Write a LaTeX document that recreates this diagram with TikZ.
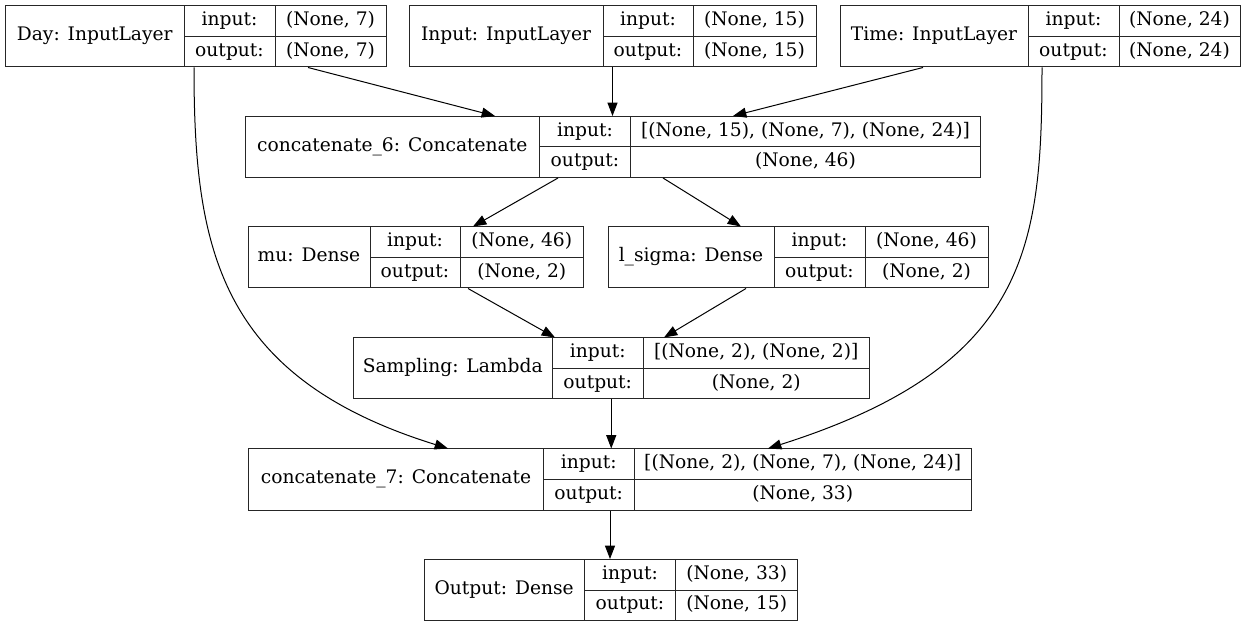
\documentclass[tikz,border=0pt]{standalone}
\usepackage{fontspec}
\setmainfont{DejaVu Serif}
\usetikzlibrary{arrows.meta,fit,calc}
\tikzset{
  boxst/.style={draw=black!85, line width=0.75pt, inner sep=0pt},
  divst/.style={draw=black!85, line width=0.75pt},
  txt/.style={inner sep=0pt, text height=0.8em, text depth=0.15em, font=\fontsize{14pt}{16pt}\selectfont},
  edgest/.style={line width=0.75pt, -{Triangle[length=10pt,width=7.5pt]}}
}
% #1 name, #2 x0, #3 x1, #4 x2, #5 x3, #6 top y, #7 title, #8 input shape, #9 output shape
\newcommand\layerbox[9]{%
  \coordinate (#1-nw) at ({#2},{#6});
  \coordinate (#1-se) at ({#5},{#6+61});
  \node[boxst, fit=(#1-nw)(#1-se)] (#1) {};
  \draw[divst] ({#3},{#6}) -- ({#3},{#6+61});
  \draw[divst] ({#4},{#6}) -- ({#4},{#6+61});
  \draw[divst] ({#3},{#6+30.5}) -- ({#5},{#6+30.5});
  \node[txt] (#1-name) at ({(#2+#3)/2},{#6+30.5}) {#7};
  \node[txt] (#1-il) at ({(#3+#4)/2},{#6+15.25}) {input:};
  \node[txt] (#1-ol) at ({(#3+#4)/2},{#6+45.75}) {output:};
  \node[txt] (#1-iv) at ({(#4+#5)/2},{#6+15.25}) {#8};
  \node[txt] (#1-ov) at ({(#4+#5)/2},{#6+45.75}) {#9};
}
\begin{document}
\begin{tikzpicture}[x=0.75pt, y=-0.75pt]
\useasboundingbox (0,0) rectangle (1247,627);
\layerbox{day}{5.5}{184}{275}{386}{6}{Day: InputLayer}{(None, 7)}{(None, 7)}
\layerbox{input}{409}{603}{693}{816}{6}{Input: InputLayer}{(None, 15)}{(None, 15)}
\layerbox{time}{840}{1028}{1119}{1240}{6}{Time: InputLayer}{(None, 24)}{(None, 24)}
\layerbox{c6}{245}{539.5}{630.5}{980.5}{116.5}{concatenate\_6: Concatenate}{[(None, 15), (None, 7), (None, 24)]}{(None, 46)}
\layerbox{mu}{248}{370}{460}{583.5}{227}{mu: Dense}{(None, 46)}{(None, 2)}
\layerbox{ls}{608}{774}{865}{988}{227}{l\_sigma: Dense}{(None, 46)}{(None, 2)}
\layerbox{samp}{353}{552.5}{643}{869.5}{338}{Sampling: Lambda}{[(None, 2), (None, 2)]}{(None, 2)}
\layerbox{c7}{248.5}{543.5}{634}{971.5}{449}{concatenate\_7: Concatenate}{[(None, 2), (None, 7), (None, 24)]}{(None, 33)}
\layerbox{out}{424}{584.3}{675.7}{797.7}{559.5}{Output: Dense}{(None, 33)}{(None, 15)}

\draw[edgest] ($(day.south)+(112.25,0)$) -- ($(c6.north)+(-117.75,0)$);
\draw[edgest] (input.south) -- (input.south |- c6.north);
\draw[edgest] ($(time.south)+(-117,0)$) -- ($(c6.north)+(120.25,0)$);
\draw[edgest] ($(c6.south)+(-54.75,0)$) -- ($(mu.north)+(57.25,0)$);
\draw[edgest] ($(c6.south)+(50.25,0)$) -- ($(ls.north)+(-57,0)$);
\draw[edgest] ($(mu.south)+(52.25,0)$) -- ($(samp.north)+(-56.25,0)$);
\draw[edgest] ($(ls.south)+(-52,0)$) -- ($(samp.north)+(52.75,0)$);
\draw[edgest] (samp.south) -- (samp.south |- c7.north);
\draw[edgest] (c7.south) -- (c7.south |- out.north);
\draw[edgest] ($(day.south)+(-1.75,0)$) .. controls ($(day.south)+(-1.75,180)$) and ($(c7.north)+(-392,-71.3)$) .. ($(c7.north)+(-162,0)$);
\draw[edgest] ($(time.south)+(2,0)$) .. controls ($(time.south)+(2,180)$) and ($(c7.north)+(418,-82.4)$) .. ($(c7.north)+(158,0)$);
\end{tikzpicture}
\end{document}
